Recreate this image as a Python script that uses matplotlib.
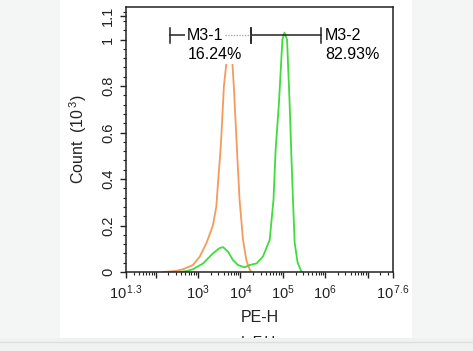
import numpy as np
import matplotlib
matplotlib.use('Agg')
import matplotlib.pyplot as plt
from matplotlib.patches import Rectangle
from matplotlib.ticker import FixedLocator, LogLocator, NullFormatter

plt.rcParams['font.family'] = ['Liberation Sans', 'DejaVu Sans']
plt.rcParams['mathtext.fontset'] = 'custom'
plt.rcParams['mathtext.rm'] = 'Liberation Sans'
plt.rcParams['mathtext.it'] = 'Liberation Sans'

# Histogram traces (log10 of PE-H, count in 10^3)
orange_logx = [2.18, 2.45, 2.65, 2.88, 3.04, 3.20, 3.35, 3.43, 3.47, 3.53, 3.56,
               3.61, 3.67, 3.72, 3.76, 3.81, 3.85, 3.92, 3.98, 4.06, 4.14, 4.22, 4.26]
orange_count = [0.0, 0.004, 0.012, 0.03, 0.066, 0.125, 0.20, 0.28, 0.38, 0.525, 0.62,
                0.80, 0.90, 0.94, 0.94, 0.90, 0.78, 0.52, 0.31, 0.14, 0.05, 0.01, 0.0]

green_logx = [2.57, 2.75, 2.88, 3.12, 3.35, 3.51, 3.59, 3.71, 3.82, 3.94, 4.10, 4.22,
              4.38, 4.53, 4.69, 4.78, 4.83, 4.91, 4.99, 5.04, 5.10, 5.16, 5.20, 5.24,
              5.28, 5.35, 5.43, 5.46]
green_count = [0.0, 0.005, 0.012, 0.037, 0.08, 0.103, 0.107, 0.087, 0.052, 0.03, 0.02,
               0.03, 0.037, 0.066, 0.138, 0.31, 0.525, 0.73, 1.0, 1.03, 1.0, 0.73, 0.51,
               0.31, 0.125, 0.04, 0.005, 0.0]

# Gates: name, percent, log10 start, log10 end
gate_names = ['M3-1', 'M3-2']
gate_pcts = ['16.24%', '82.93%']
gate_lo = [2.335, 4.24]
gate_hi = [4.24, 5.91]
gate_y = 1.019

ytick_vals = [0, 0.2, 0.4, 0.6, 0.8, 1, 1.1]
ytick_text = ['0', '0.2', '0.4', '0.6', '0.8', '1', '1.1']

fig = plt.figure(figsize=(4.73, 3.51), dpi=100)
fig.patch.set_facecolor('#f4f5f5')
# white panel the plot sits on
fig.patches.append(Rectangle((60 / 473, 1 - 338 / 351), 352 / 473, 338 / 351,
                             transform=fig.transFigure, facecolor='white',
                             edgecolor='none', zorder=0))

ax = fig.add_axes([126 / 473, 1 - 272 / 351, 267 / 473, 265 / 351])
ax.set_zorder(2)
ax.set_facecolor('white')
ax.set_xscale('log')
ax.set_xlim(10 ** 1.3, 10 ** 7.6)
ax.set_ylim(0, 1.14)

ax.plot(10 ** np.array(orange_logx), orange_count, color='#f39a5c', lw=1.3, zorder=2)
ax.plot(10 ** np.array(green_logx), green_count, color='#3fdc3a', lw=1.3, zorder=2)

# gate markers
cap = 0.032
for i in range(2):
    x0, x1 = 10 ** gate_lo[i], 10 ** gate_hi[i]
    ax.plot([x0, x0], [gate_y - cap, gate_y + cap], color='#222222', lw=1.1, zorder=3)
    ax.plot([x1, x1], [gate_y - cap, gate_y + cap], color='#222222', lw=1.1, zorder=3)
ax.plot([10 ** 2.335, 10 ** 2.70], [gate_y, gate_y], color='#222222', lw=1.1, zorder=3)
ax.plot([10 ** 3.63, 10 ** 4.24], [gate_y, gate_y], color='#aaaaaa', lw=1.0,
        ls=(0, (1, 1)), zorder=3)
ax.plot([10 ** 4.24, 10 ** 5.91], [gate_y, gate_y], color='#222222', lw=1.1, zorder=3)

txt_box = dict(facecolor='white', edgecolor='none', pad=1.0)
ax.text(10 ** 2.73, gate_y, gate_names[0], fontsize=11.5, va='center', ha='left',
        zorder=4, bbox=txt_box)
ax.text(10 ** 2.76, 0.935, gate_pcts[0], fontsize=11.5, va='center', ha='left',
        zorder=4, bbox=txt_box)
ax.text(10 ** 6.0, gate_y, gate_names[1], fontsize=11.5, va='center', ha='left',
        zorder=4, bbox=txt_box)
ax.text(10 ** 6.0, 0.935, gate_pcts[1], fontsize=11.5, va='center', ha='left',
        zorder=4, bbox=txt_box)

# axes styling
for sp in ax.spines.values():
    sp.set_color('#222222')
    sp.set_linewidth(1.1)

ax.xaxis.set_major_locator(FixedLocator([10 ** e for e in [1.3, 2, 3, 4, 5, 6, 7, 7.6]]))
ax.set_xticklabels(['$10^{\\,1.3}$', '', '$10^{3}$', '$10^{4}$', '$10^{5}$',
                    '$10^{6}$', '', '$10^{\\,7.6}$'])
ax.xaxis.set_minor_locator(LogLocator(base=10, subs=np.arange(2, 10)))
ax.xaxis.set_minor_formatter(NullFormatter())

ax.set_yticks(ytick_vals)
ax.set_yticklabels(ytick_text, rotation=90, va='center')
ax.yaxis.set_minor_locator(FixedLocator(np.arange(0, 1.14, 0.04)))

ax.tick_params(axis='both', which='major', direction='out', length=4, width=1.0,
               color='#222222', labelsize=10.5, labelcolor='#222222')
ax.tick_params(axis='both', which='minor', direction='out', length=2, width=0.8,
               color='#222222')
ax.tick_params(axis='x', which='major', pad=4)
ax.tick_params(axis='y', which='major', pad=4)
ax.tick_params(axis='x', which='both', top=False)
ax.tick_params(axis='y', which='both', right=False)

ax.set_xlabel('PE-H', fontsize=11.5, color='#222222', labelpad=6)
ax.set_ylabel('Count  (10$^{\\,3}$)', fontsize=11.5, color='#222222')
ax.yaxis.set_label_coords(-0.14, 0.5)

# cut-off text at the bottom edge of the panel, hidden by the grey band
fig.text(258 / 473, 1 - 342 / 351, 'L.F.H', fontsize=11, ha='center', va='center',
         color='#222222', zorder=3)
fig.patches.append(Rectangle((0, 0), 1, 1 - 338 / 351, transform=fig.transFigure,
                             facecolor='#f0f1f1', edgecolor='none', zorder=5))
fig.lines.append(plt.Line2D([0, 1], [1 - 342 / 351, 1 - 342 / 351],
                            transform=fig.transFigure, color='#dedede', lw=1, zorder=6))

fig.savefig('out.png', dpi=100, facecolor=fig.get_facecolor())
